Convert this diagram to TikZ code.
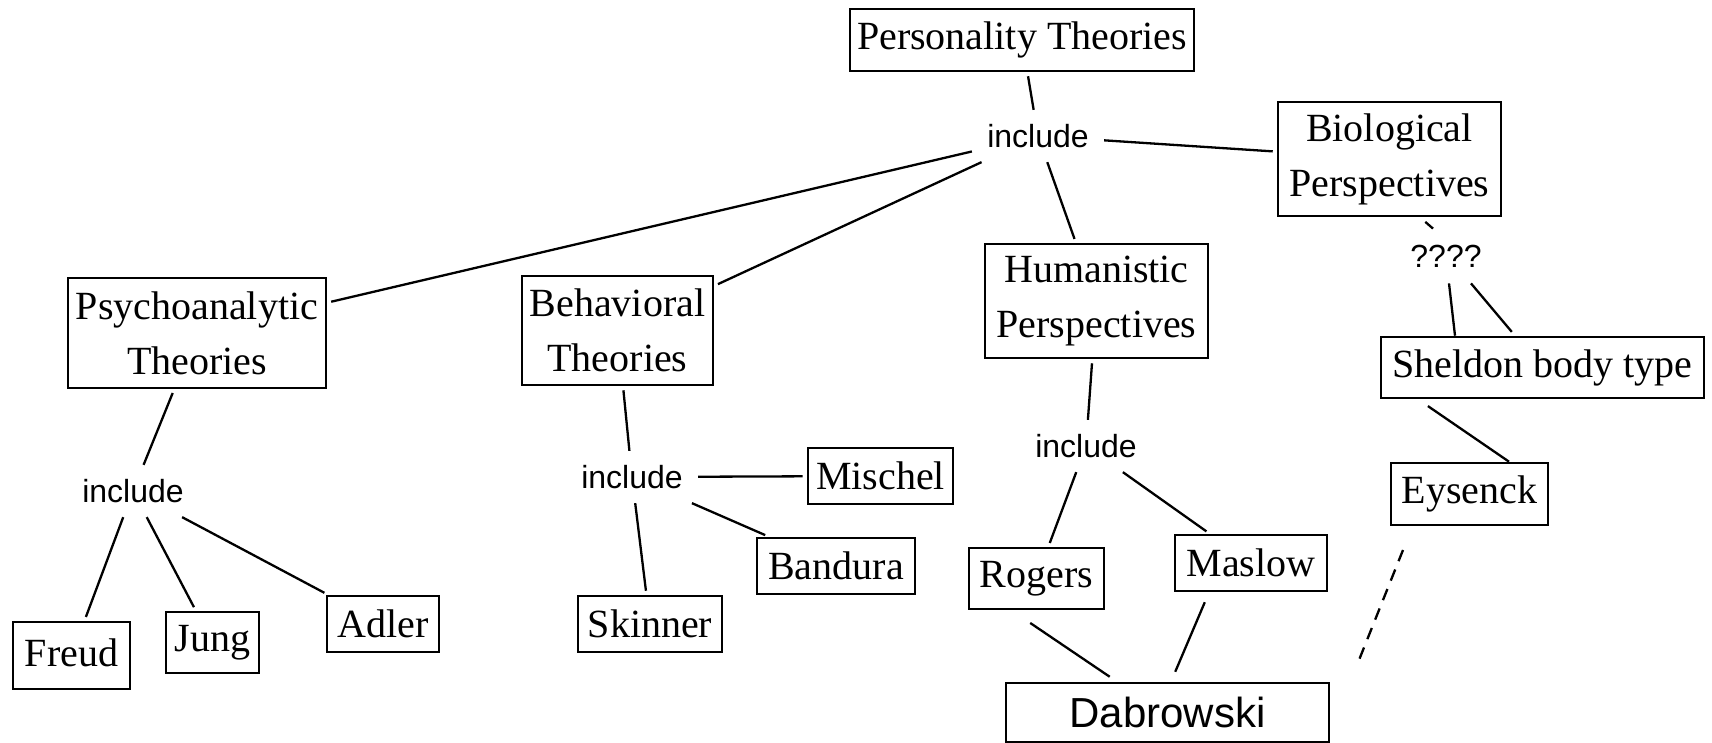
\documentclass[tikz,border=0pt]{standalone}
\usepackage{fontspec}
\setmainfont{Liberation Serif}
\newfontfamily\sansf{Liberation Sans}
\tikzset{
  box/.style={draw, line width=1.3pt, inner sep=0pt, align=center, font=\fontsize{20}{27.5}\selectfont},
  inc/.style={font=\sansf\fontsize{16}{19}\selectfont, inner xsep=7.5pt, inner ysep=7pt},
  qq/.style={font=\sansf\fontsize{16}{19}\selectfont, inner sep=0pt, minimum width=40pt, minimum height=27pt},
  link/.style={line width=1.15pt},
  dashlink/.style={line width=1.15pt, dash pattern=on 6pt off 4.5pt}
}
\begin{document}
\begin{tikzpicture}[x=0.5pt,y=-0.5pt]
\useasboundingbox (0,0) rectangle (1712,743);
% nodes
\node[box, minimum width=172pt, minimum height=31pt] (pers) at (1022,40) {Personality Theories};
\node[inc] (inc1) at (1038,136) {include};
\node[box, minimum width=111.5pt, minimum height=57pt] (bio) at (1389.5,159) {Biological\\Perspectives};
\node[qq] (q) at (1446,256) {????};
\node[box, minimum width=161.5pt, minimum height=30.5pt] (shel) at (1542.5,367.5) {Sheldon body type};
\node[box, minimum width=78.5pt, minimum height=31pt] (eys) at (1469.5,494) {Eysenck};
\node[box, minimum width=111.5pt, minimum height=57pt] (hum) at (1096.5,301) {Humanistic\\Perspectives};
\node[inc] (inc4) at (1086,446) {include};
\node[box, minimum width=67.5pt, minimum height=30.5pt] (rog) at (1036.5,578.5) {Rogers};
\node[box, minimum width=76pt, minimum height=28pt] (mas) at (1251,563) {Maslow};
\node[box, font=\sansf\fontsize{21}{25}\selectfont, minimum width=161.5pt, minimum height=29.5pt] (dab) at (1167.5,712.5) {Dabrowski};
\node[box, minimum width=129pt, minimum height=55pt] (psy) at (197,333) {Psychoanalytic\\Theories};
\node[inc] (inc2) at (133,491) {include};
\node[box, minimum width=58.5pt, minimum height=33.5pt] (freud) at (71.5,655.5) {\raisebox{3pt}{Freud}};
\node[box, minimum width=46.5pt, minimum height=30.5pt] (jung) at (212.5,642.5) {\raisebox{2pt}{Jung}};
\node[box, minimum width=56pt, minimum height=28pt] (adler) at (383,624) {Adler};
\node[box, minimum width=95.5pt, minimum height=54.5pt] (beh) at (617.5,330.5) {Behavioral\\Theories};
\node[inc] (inc3) at (632,477) {include};
\node[box, minimum width=72.5pt, minimum height=28pt] (mis) at (880.5,476) {Mischel};
\node[box, minimum width=79pt, minimum height=28pt] (ban) at (836,566) {Bandura};
\node[box, minimum width=72pt, minimum height=28pt] (ski) at (650,624) {Skinner};
\coordinate (d1) at (1403,550);
\coordinate (d2) at (1357,665);
% connectors
\draw[link, shorten <=2pt] (pers) -- (inc1);
\draw[link, shorten >=2pt] (inc1) -- (bio);
\draw[link, shorten >=2pt] (inc1) -- (hum);
\draw[link, shorten >=2pt] (inc1) -- (psy);
\draw[link, shorten >=2pt] (inc1) -- (beh);
\draw[link, shorten <=3.5pt] ([xshift=15.25pt]bio.south) -- ([xshift=-6.5pt]q.north);
\draw[link] ([xshift=1.5pt]q.south) -- ([xshift=-43.75pt]shel.north);
\draw[link, shorten >=2.5pt] ([xshift=12.5pt]q.south) -- ([xshift=-13.75pt]shel.north);
\draw[link, shorten <=6pt] ([xshift=-62.25pt]shel.south) -- ([xshift=19.75pt]eys.north);
\draw[dashlink] (d1) -- (d2);
\draw[link, shorten <=2pt] (hum) -- (inc4);
\draw[link, shorten >=2pt] (inc4) -- (rog);
\draw[link, shorten >=2pt] (inc4) -- (mas);
\draw[link, shorten <=11.3pt, shorten >=4.4pt] ([xshift=-12.5pt]rog.south) -- ([xshift=-25.25pt]dab.north);
\draw[link, shorten <=5.4pt, shorten >=5.4pt] ([xshift=-21pt]mas.south) -- ([xshift=1.75pt]dab.north);
\draw[link, shorten <=2pt] (psy) -- (inc2);
\draw[link, shorten >=2pt] (inc2) -- (freud);
\draw[link, shorten >=2pt] (inc2) -- (jung);
\draw[link, shorten >=2pt] (inc2) -- (adler);
\draw[link, shorten <=2pt] (beh) -- (inc3);
\draw[link, shorten >=2pt] (inc3) -- (mis);
\draw[link, shorten >=2pt] (inc3) -- (ban);
\draw[link, shorten >=2pt] (inc3) -- (ski);
\end{tikzpicture}
\end{document}
